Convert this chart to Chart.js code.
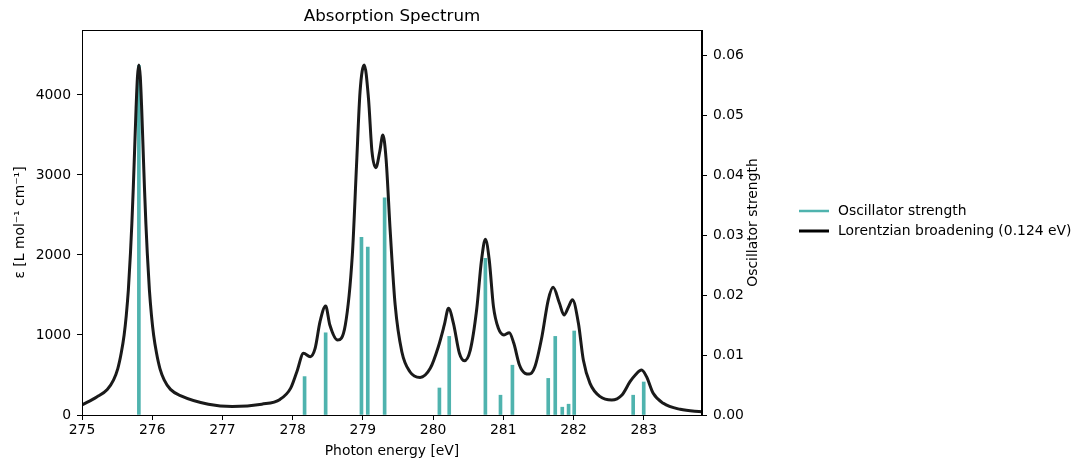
<!DOCTYPE html>
<html>
<head>
<meta charset="utf-8">
<script src="https://cdn.jsdelivr.net/npm/chart.js@4"></script>
<style>
  html, body { margin: 0; padding: 0; background: #fff; }
  #wrap { width: 1087px; height: 468px; position: relative; }
</style>
</head>
<body>
<div id="wrap"><canvas id="spectrumChart" width="1087" height="468"></canvas></div>
<script>
// Lorentzian broadened curve
const curveEnergy = [275.00, 275.21, 275.36, 275.45, 275.51, 275.56, 275.60, 275.63, 275.66, 275.69,
    275.71, 275.73, 275.75, 275.77, 275.79, 275.81, 275.83, 275.85, 275.87, 275.89,
    275.91, 275.93, 275.96, 275.99, 276.02, 276.06, 276.11, 276.17, 276.26, 276.41,
    276.80, 277.14, 277.56, 277.82, 277.97, 278.06, 278.155, 278.25, 278.32, 278.39,
    278.47, 278.53, 278.64, 278.75, 278.85, 278.91, 278.96, 279.02, 279.08, 279.13,
    279.185, 279.24, 279.285, 279.33, 279.39, 279.46, 279.555, 279.67, 279.815, 279.96,
    280.075, 280.16, 280.22, 280.29, 280.375, 280.445, 280.53, 280.62, 280.69, 280.745,
    280.80, 280.86, 280.93, 281.01, 281.085, 281.15, 281.23, 281.31, 281.37, 281.45,
    281.55, 281.64, 281.71, 281.80, 281.865, 281.93, 281.985, 282.07, 282.14, 282.235,
    282.38, 282.545, 282.69, 282.805, 282.88, 282.97, 283.04, 283.135, 283.28, 283.52,
    283.83];
const curveEps = [125, 225, 320, 440, 580, 780, 1000, 1240, 1560, 2020,
    2390, 2830, 3330, 3830, 4230, 4375, 4230, 3830, 3330, 2830,
    2390, 2020, 1560, 1240, 1000, 780, 580, 440, 320, 240,
    135, 105, 135, 195, 333, 541, 771, 729, 833, 1167,
    1362, 1125, 937, 1125, 2000, 3125, 4041, 4375, 3958, 3291,
    3091, 3291, 3500, 3208, 2291, 1375, 791, 541, 470, 583,
    854, 1125, 1333, 1146, 771, 679, 812, 1312, 1937, 2196,
    1937, 1354, 1083, 1000, 1029, 896, 625, 521, 512, 604,
    979, 1437, 1596, 1396, 1250, 1354, 1440, 1146, 687, 396,
    229, 187, 250, 416, 500, 562, 479, 271, 146, 71,
    40];

// stick transitions
const stickEnergy = [275.81, 278.17, 278.47, 278.98, 279.07, 279.31, 280.09, 280.23, 280.745, 280.96,
    281.13, 281.64, 281.74, 281.84, 281.93, 282.01, 282.85, 283.00];
const stickStrength = [0.0583, 0.0064, 0.0137, 0.0296, 0.0280, 0.0362, 0.0045, 0.0131, 0.0261, 0.0033,
    0.0083, 0.0061, 0.0131, 0.0013, 0.0018, 0.0140, 0.0033, 0.0055];

const xTicks = [275, 276, 277, 278, 279, 280, 281, 282, 283];
const epsTicks = [0, 1000, 2000, 3000, 4000];
const fTicks = [0, 0.01, 0.02, 0.03, 0.04, 0.05, 0.06];

const FONT = 'DejaVu Sans';
const stickColor = '#4fb3ae';
const curveColor = '#1a1a1a';

// frame, title, right label and legend
const decorPlugin = {
    id: 'decor',
    afterDraw(chart) {
        const ctx = chart.ctx;
        const a = chart.chartArea;
        ctx.save();
        ctx.strokeStyle = '#000';
        ctx.lineWidth = 1;
        ctx.strokeRect(a.left + 0.5, a.top + 0.5, a.right - a.left - 1, a.bottom - a.top);

        ctx.fillStyle = '#000';
        ctx.font = '16.7px "' + FONT + '"';
        ctx.textAlign = 'center';
        ctx.textBaseline = 'middle';
        ctx.fillText('Absorption Spectrum', (a.left + a.right) / 2, 17);

        ctx.font = '13.9px "' + FONT + '"';
        ctx.save();
        ctx.translate(753, (a.top + a.bottom) / 2);
        ctx.rotate(-Math.PI / 2);
        ctx.fillText('Oscillator strength', 0, 0);
        ctx.restore();

        // legend
        const items = [
            { label: 'Oscillator strength', color: stickColor, width: 2.5 },
            { label: 'Lorentzian broadening (0.124 eV)', color: '#000', width: 3 }
        ];
        items.forEach((it, i) => {
            const y = 211 + i * 20;
            ctx.strokeStyle = it.color;
            ctx.lineWidth = it.width;
            ctx.beginPath();
            ctx.moveTo(799, y);
            ctx.lineTo(829, y);
            ctx.stroke();
            ctx.textAlign = 'left';
            ctx.fillText(it.label, 838, y);
        });
        ctx.restore();
    }
};

const tickFont = { family: FONT, size: 13.9 };

new Chart(document.getElementById('spectrumChart'), {
    type: 'line',
    data: {
        datasets: [
            {
                label: 'Lorentzian broadening (0.124 eV)',
                data: curveEnergy.map((x, i) => ({ x: x, y: curveEps[i] })),
                borderColor: curveColor,
                borderWidth: 3,
                pointRadius: 0,
                cubicInterpolationMode: 'monotone',
                yAxisID: 'y',
                order: 0
            },
            {
                type: 'bar',
                label: 'Oscillator strength',
                data: stickEnergy.map((x, i) => ({ x: x, y: stickStrength[i] })),
                backgroundColor: stickColor,
                barThickness: 3,
                yAxisID: 'y1',
                order: 1
            }
        ]
    },
    options: {
        responsive: false,
        animation: false,
        devicePixelRatio: 1,
        layout: { padding: { left: 0, right: 315, top: 30, bottom: 0 } },
        plugins: {
            legend: { display: false },
            tooltip: { enabled: false }
        },
        scales: {
            x: {
                type: 'linear',
                min: 275,
                max: 283.83,
                offset: false,
                afterBuildTicks: s => { s.ticks = xTicks.map(v => ({ value: v })); },
                afterFit: s => { s.height = 53; },
                ticks: { font: tickFont, color: '#000', padding: 2, maxRotation: 0,
                    callback: v => String(v) },
                grid: { offset: false, drawOnChartArea: false, drawTicks: true, tickLength: 5, tickColor: '#000' },
                border: { display: true, color: '#000', width: 1 },
                title: { display: true, text: 'Photon energy [eV]', font: tickFont, color: '#000',
                    padding: { top: 0, bottom: 8 } }
            },
            y: {
                position: 'left',
                min: 0,
                max: 4812,
                afterBuildTicks: s => { s.ticks = epsTicks.map(v => ({ value: v })); },
                afterFit: s => { s.width = 82; },
                ticks: { font: tickFont, color: '#000', padding: 6, callback: v => String(v) },
                grid: { drawOnChartArea: false, drawTicks: true, tickLength: 5, tickColor: '#000' },
                border: { display: true, color: '#000', width: 1 },
                title: { display: true, text: 'ε [L mol⁻¹ cm⁻¹]', font: tickFont, color: '#000',
                    padding: { top: 12, bottom: 0 } }
            },
            y1: {
                position: 'right',
                min: 0,
                max: 0.06417,
                afterBuildTicks: s => { s.ticks = fTicks.map(v => ({ value: v })); },
                afterFit: s => { s.width = 70; },
                ticks: { font: tickFont, color: '#000', padding: 6, callback: v => v.toFixed(2) },
                grid: { drawOnChartArea: false, drawTicks: true, tickLength: 5, tickColor: '#000' },
                border: { display: true, color: '#000', width: 1 }
            }
        }
    },
    plugins: [decorPlugin]
});
</script>
</body>
</html>
